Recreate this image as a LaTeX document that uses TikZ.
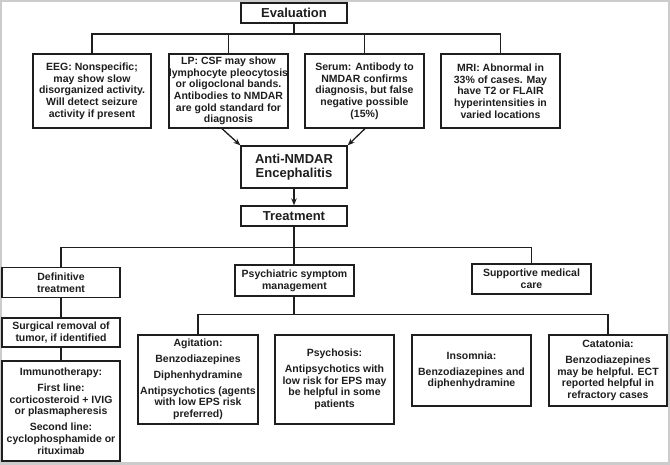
\documentclass[tikz,border=0pt]{standalone}
\usepackage{fontspec}
\setmainfont{Liberation Sans}
\usetikzlibrary{arrows.meta}
\definecolor{ink}{HTML}{1E1E1E}
\definecolor{frame}{HTML}{CCCCCC}
\tikzset{
  box/.style={draw=ink, line width=1.3pt, fill=white, inner sep=0pt, align=center, text=ink,
    font=\fontsize{10.5}{11.7}\selectfont\bfseries},
  head/.style={box, font=\fontsize{13}{14}\selectfont\bfseries},
  link/.style={draw=ink, line width=1.3pt},
  arr/.style={link, -{Stealth[length=7pt,width=5.5pt]}}
}
\begin{document}
\begin{tikzpicture}[x=1pt,y=-1pt]
\fill[frame] (0,0) rectangle (670,465);
\fill[white] (1.8,2) rectangle (668,462);
\useasboundingbox (0,0) rectangle (670,465);
% top
\node[head, minimum width=106pt, minimum height=20pt] (eval) at (294,13) {Evaluation};
\node[box, minimum width=118pt, minimum height=74pt] (eeg) at (92,91) {EEG: Nonspecific;\\ may show slow\\ disorganized activity.\\ Will detect seizure\\ activity if present};
\node[box, minimum width=119pt, minimum height=74pt] (lp) at (228.5,91) {LP: CSF may show\\ lymphocyte pleocytosis\\ or oligoclonal bands.\\ Antibodies to NMDAR\\ are gold standard for\\ diagnosis};
\node[box, minimum width=119pt, minimum height=74pt] (serum) at (364.5,91) {Serum: Antibody to\\ NMDAR confirms\\ diagnosis, but false\\ negative possible\\ (15\%)};
\node[box, minimum width=119pt, minimum height=74pt] (mri) at (500.5,91) {MRI: Abnormal in\\ 33\% of cases. May\\ have T2 or FLAIR\\ hyperintensities in\\ varied locations};
\node[head, minimum width=106pt, minimum height=42pt] (anti) at (294,167) {Anti-NMDAR\\ Encephalitis};
\node[head, minimum width=106pt, minimum height=20pt] (treat) at (294,216) {Treatment};
% second level
\node[box, minimum width=118pt, minimum height=30pt] (def) at (61,282.5) {Definitive\\ treatment};
\node[box, minimum width=119pt, minimum height=31pt] (psy) at (294.5,280.5) {Psychiatric symptom\\ management};
\node[box, minimum width=119pt, minimum height=30pt] (sup) at (531.5,279) {Supportive medical\\ care};
\node[box, minimum width=118pt, minimum height=29pt] (surg) at (61,332.5) {Surgical removal of\\ tumor, if identified};
\node[box, minimum width=118pt, minimum height=100pt] (immu) at (61,411) {Immunotherapy:\\[4.5pt] First line:\\ corticosteroid + IVIG\\ or plasmapheresis\\[4.5pt] Second line:\\ cyclophosphamide or\\ rituximab};
\node[box, minimum width=120pt, minimum height=89pt] (agi) at (198,379.5) {Agitation:\\[4pt] Benzodiazepines\\[4pt] Diphenhydramine\\[4pt] Antipsychotics (agents\\ with low EPS risk\\ preferred)};
\node[box, minimum width=119pt, minimum height=89pt] (psyc) at (334.5,379.5) {Psychosis:\\[4pt] Antipsychotics with\\ low risk for EPS may\\ be helpful in some\\ patients};
\node[box, minimum width=119pt, minimum height=71pt] (inso) at (471.5,370.5) {Insomnia:\\[4pt] Benzodiazepines and\\ diphenhydramine};
\node[box, minimum width=118pt, minimum height=71pt] (cat) at (608,370.5) {Catatonia:\\[4pt] Benzodiazepines\\ may be helpful. ECT\\ reported helpful in\\ refractory cases};
% connectors
\draw[link] (eval.south) -- ++(0,10.3) -| (eeg.north);
\draw[link] (eval.south) -- ++(0,10.3) -| (lp.north);
\draw[link] (eval.south) -- ++(0,10.3) -| (serum.north);
\draw[link] (eval.south) -- ++(0,10.3) -| (mri.north);
\draw[arr] ([xshift=-6.5pt]lp.south) -- (anti.north west);
\draw[arr] ([xshift=0.5pt]serum.south) -- (anti.north east);
\draw[arr] (anti.south) -- (treat.north);
\draw[link] (treat.south) -- ++(0,21) -| (def.north);
\draw[link] (treat.south) -- ++(0,21) -| (sup.north);
\draw[link] (treat.south) -- ++(0,21) -| ([xshift=-0.5pt]psy.north);
\draw[link] ([xshift=-0.5pt]psy.south) -- ++(0,18) -| (agi.north);
\draw[link] ([xshift=-0.5pt]psy.south) -- ++(0,18) -| (cat.north);
\draw[link] (def.south) -- (surg.north);
\draw[link] (surg.south) -- (immu.north);
\end{tikzpicture}
\end{document}
